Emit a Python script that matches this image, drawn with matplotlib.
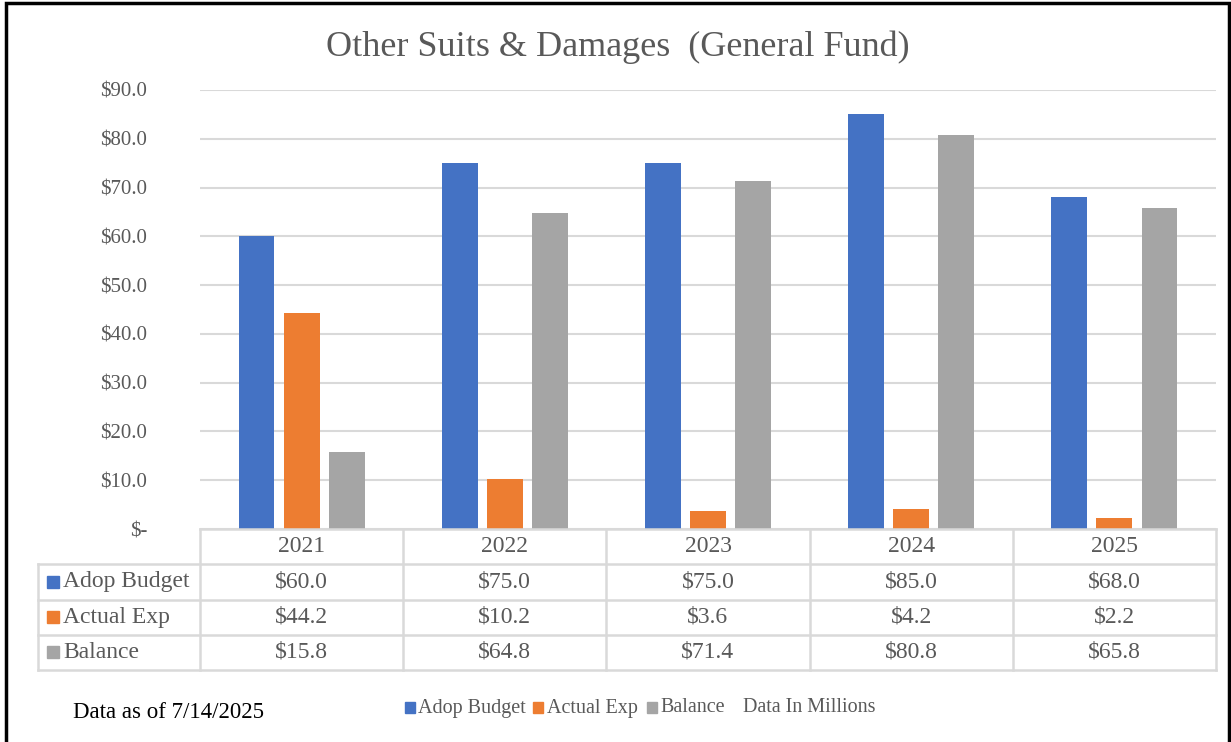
import matplotlib
matplotlib.use("Agg")
import matplotlib.pyplot as plt
from matplotlib.patches import Rectangle

# data (in millions)
years = ["2021", "2022", "2023", "2024", "2025"]
adop_budget = [60.0, 75.0, 75.0, 85.0, 68.0]
actual_exp = [44.2, 10.2, 3.6, 4.2, 2.2]
balance = [15.8, 64.8, 71.4, 80.8, 65.8]
series_names = ["Adop Budget", "Actual Exp", "Balance"]
colors = ["#4472C4", "#ED7D31", "#A5A5A5"]
yticks = [0, 10, 20, 30, 40, 50, 60, 70, 80, 90]

plt.rcParams["font.family"] = ["Liberation Serif", "DejaVu Serif"]
txt = "#595959"
grid = "#d9d9d9"

W, H = 1231, 742
fig = plt.figure(figsize=(W / 100, H / 100), dpi=100)


def px_axes(x0, y0, x1, y1):
    # axes from pixel box (top-left origin)
    return fig.add_axes([x0 / W, 1 - y1 / H, (x1 - x0) / W, (y1 - y0) / H])


# chart area
ax = px_axes(200, 90, 1216, 529)
n = len(years)
xs = list(range(n))
bw = 0.177
step = 0.222
all_series = [adop_budget, actual_exp, balance]
for k, vals in enumerate(all_series):
    ax.bar([x + (k - 1) * step for x in xs], vals, width=bw,
           color=colors[k], zorder=3, label=series_names[k])

ax.set_xlim(-0.5, n - 0.5)
ax.set_ylim(0, 90)
ax.set_yticks(yticks)
ax.set_yticklabels(["$-" if v == 0 else f"${v:.1f}" for v in yticks],
                   fontsize=15, color=txt)
ax.tick_params(axis="y", length=0, pad=38)
ax.set_xticks([])
ax.grid(axis="y", color=grid, lw=1.5, zorder=0)
for s in ax.spines.values():
    s.set_visible(False)

# data table below chart
left_px = 38
tab = px_axes(left_px, 529, 1216, 670)
col_w = (1216 - 200) / n
x_left = -0.5 - (200 - left_px) / col_w
tab.set_xlim(x_left, n - 0.5)
tab.set_ylim(4, 0)
tab.axis("off")

lc = dict(color=grid, lw=1.8, clip_on=False)
tab.plot([-0.5, n - 0.5], [0, 0], **lc)
for r in range(1, 5):
    tab.plot([x_left, n - 0.5], [r, r], **lc)
for c in range(n + 1):
    tab.plot([c - 0.5, c - 0.5], [0, 4], **lc)
tab.plot([x_left, x_left], [1, 4], **lc)

for i, yr in enumerate(years):
    tab.text(i, 0.5, yr, ha="center", va="center", fontsize=17, color=txt)
for r, vals in enumerate(all_series):
    tab.plot([x_left + 15 / col_w], [r + 1.5], marker="s", ms=8.5,
             color=colors[r], clip_on=False)
    tab.text(x_left + 25 / col_w, r + 1.5, series_names[r], ha="left",
             va="center", fontsize=17, color=txt)
    for i, v in enumerate(vals):
        tab.text(i, r + 1.5, f"${v:.1f}", ha="center", va="center",
                 fontsize=17, color=txt)

# title
fig.text(618 / W, 1 - 47 / H, "Other Suits & Damages  (General Fund)",
         ha="center", va="center", fontsize=26, color=txt)

# legend (placed by hand, like the excel one)
leg_sq = [405, 533, 647]
leg_tx = [418, 547, 660]
for k in range(3):
    fig.patches.append(Rectangle((leg_sq[k] / W, 1 - 713 / H), 10 / W, 11 / H,
                                 transform=fig.transFigure,
                                 color=colors[k]))
    fig.text(leg_tx[k] / W, 1 - 708 / H, series_names[k], ha="left",
             va="center", fontsize=14.5, color=txt)
fig.text(743 / W, 1 - 708 / H, "Data In Millions", ha="left", va="center",
         fontsize=14.5, color=txt)
fig.text(73 / W, 1 - 712 / H, "Data as of 7/14/2025", ha="left", va="center",
         fontsize=16.5, color="black")

# outer border
fig.patches.append(Rectangle((6 / W, -0.01), (1229 - 6) / W, 1.01 - 3 / H,
                             transform=fig.transFigure, fill=False,
                             edgecolor="black", lw=2.5))

fig.savefig("out.png", dpi=100)
